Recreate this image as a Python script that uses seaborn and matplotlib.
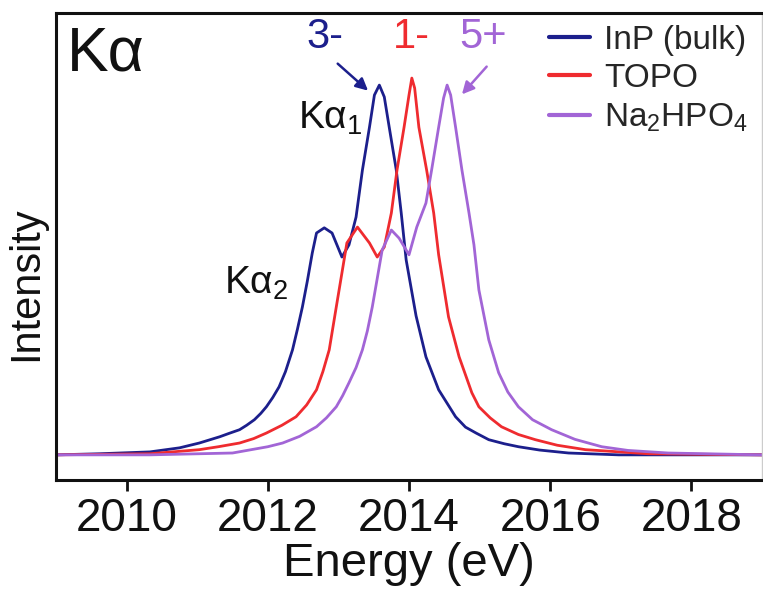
import matplotlib
matplotlib.use("Agg")
import matplotlib.pyplot as plt
import seaborn as sns
import pandas as pd
from matplotlib.lines import Line2D

# ---- data (energy in eV, normalised intensity) ----
inp_energy = [2009.00, 2009.62, 2010.33, 2010.75, 2011.03, 2011.32, 2011.45, 2011.60,
              2011.70, 2011.81, 2011.90, 2011.98, 2012.07, 2012.16, 2012.25, 2012.35,
              2012.42, 2012.49, 2012.56, 2012.63, 2012.69, 2012.80, 2012.91, 2013.05,
              2013.15, 2013.25, 2013.34, 2013.44, 2013.51, 2013.58, 2013.65, 2013.72,
              2013.82, 2013.89, 2013.96, 2014.10, 2014.24, 2014.42, 2014.66, 2014.80,
              2014.95, 2015.13, 2015.35, 2015.55, 2015.85, 2016.26, 2016.97, 2019.00]
inp_int = [0.000, 0.003, 0.008, 0.019, 0.032, 0.049, 0.058, 0.068,
           0.080, 0.095, 0.112, 0.130, 0.155, 0.184, 0.225, 0.284,
           0.340, 0.400, 0.470, 0.546, 0.600, 0.614, 0.600, 0.535,
           0.568, 0.643, 0.770, 0.886, 0.973, 1.000, 0.968, 0.886,
           0.770, 0.654, 0.527, 0.376, 0.265, 0.176, 0.103, 0.075,
           0.059, 0.041, 0.030, 0.022, 0.013, 0.005, 0.000, 0.000]

topo_energy = [2009.00, 2010.33, 2011.03, 2011.30, 2011.60, 2011.80, 2011.98, 2012.20,
               2012.40, 2012.55, 2012.69, 2012.78, 2012.87, 2012.97, 2013.05, 2013.12,
               2013.27, 2013.44, 2013.55, 2013.65, 2013.75, 2013.83, 2013.93, 2014.00,
               2014.04, 2014.08, 2014.14, 2014.25, 2014.35, 2014.42, 2014.56, 2014.71,
               2014.89, 2014.99, 2015.15, 2015.31, 2015.55, 2015.79, 2016.10, 2016.50,
               2017.39, 2019.00]
topo_int = [0.000, 0.003, 0.014, 0.022, 0.032, 0.044, 0.059, 0.080,
            0.103, 0.135, 0.176, 0.225, 0.284, 0.400, 0.492, 0.573,
            0.616, 0.573, 0.535, 0.562, 0.654, 0.770, 0.886, 0.973,
            1.019, 0.992, 0.886, 0.770, 0.654, 0.541, 0.373, 0.265,
            0.168, 0.130, 0.100, 0.076, 0.055, 0.041, 0.026, 0.014,
            0.003, 0.000]

na_energy = [2009.00, 2010.33, 2011.50, 2012.00, 2012.21, 2012.45, 2012.69, 2012.83,
             2012.97, 2013.06, 2013.15, 2013.25, 2013.34, 2013.41, 2013.48, 2013.62,
             2013.75, 2013.86, 2014.00, 2014.11, 2014.24, 2014.32, 2014.42, 2014.49,
             2014.54, 2014.59, 2014.66, 2014.75, 2014.85, 2014.92, 2014.99, 2015.13,
             2015.27, 2015.40, 2015.55, 2015.75, 2016.02, 2016.35, 2016.73, 2017.10,
             2017.67, 2019.00]
na_int = [0.000, 0.000, 0.005, 0.022, 0.032, 0.050, 0.076, 0.100,
          0.130, 0.160, 0.195, 0.236, 0.284, 0.335, 0.400, 0.554,
          0.608, 0.586, 0.541, 0.616, 0.681, 0.770, 0.886, 0.965,
          1.000, 0.973, 0.886, 0.770, 0.654, 0.568, 0.446, 0.311,
          0.222, 0.170, 0.130, 0.095, 0.068, 0.042, 0.022, 0.012,
          0.005, 0.000]

series_names = ["InP (bulk)", "TOPO", "Na$_2$HPO$_4$"]
series_colors = ["#1c1f8c", "#ef2b2f", "#a265d6"]
x_ticks = [2010, 2012, 2014, 2016, 2018]

df = pd.concat([
    pd.DataFrame({"Energy": inp_energy, "Intensity": inp_int, "sample": series_names[0]}),
    pd.DataFrame({"Energy": topo_energy, "Intensity": topo_int, "sample": series_names[1]}),
    pd.DataFrame({"Energy": na_energy, "Intensity": na_int, "sample": series_names[2]}),
], ignore_index=True)

sns.set_style("white")
plt.rcParams["font.family"] = ["Liberation Sans", "DejaVu Sans"]
plt.rcParams["mathtext.fontset"] = "custom"
plt.rcParams["mathtext.rm"] = "Liberation Sans"
plt.rcParams["mathtext.default"] = "regular"

fig = plt.figure(figsize=(7.63, 5.92), dpi=100)
ax = fig.add_axes([56 / 763, 112 / 592, 706 / 763, 467 / 592])

palette = dict(zip(series_names, series_colors))
sns.lineplot(data=df, x="Energy", y="Intensity", hue="sample", palette=palette,
             estimator=None, sort=True, linewidth=2.0, ax=ax, legend=False)

ax.set_xlim(2009, 2019)
ax.set_ylim(-0.068, 1.195)
ax.set_xticks(x_ticks)
ax.set_xticklabels([str(t) for t in x_ticks])
ax.set_yticks([])
ax.tick_params(axis="x", direction="out", length=8, width=2, pad=4,
               labelsize=33, colors="#111111", bottom=True)
ax.set_xlabel("Energy (eV)", fontsize=34, labelpad=1, color="#111111")
ax.set_ylabel("Intensity", fontsize=30, color="#111111")
ax.yaxis.set_label_coords(-0.014, 0.42)

for side in ["left", "bottom", "top"]:
    ax.spines[side].set_color("#111111")
    ax.spines[side].set_linewidth(2.2)
ax.spines["right"].set_color("#cccccc")
ax.spines["right"].set_linewidth(1.0)

# legend
handles = [Line2D([], [], color=c, linewidth=3) for c in series_colors]
ax.legend(handles, series_names, loc="upper left", bbox_to_anchor=(0.698, 0.975),
          frameon=False, fontsize=24, handlelength=1.25, handletextpad=0.4,
          labelspacing=0.22, borderpad=0, borderaxespad=0)

# annotations
ax.text(0.016, 0.975, "Kα", transform=ax.transAxes, fontsize=45, va="top", ha="left",
        color="#111111")
ax.text(2012.81, 1.13, "3-", color=series_colors[0], fontsize=30, ha="center", va="center")
ax.text(2014.03, 1.13, "1-", color=series_colors[1], fontsize=30, ha="center", va="center")
ax.text(2015.05, 1.13, "5+", color=series_colors[2], fontsize=30, ha="center", va="center")
ax.annotate("", xy=(2013.42, 0.985), xytext=(2012.99, 1.058),
            arrowprops=dict(arrowstyle="-|>", color=series_colors[0], lw=1.8,
                            mutation_scale=18, shrinkA=0, shrinkB=0))
ax.annotate("", xy=(2014.75, 0.975), xytext=(2015.10, 1.050),
            arrowprops=dict(arrowstyle="-|>", color=series_colors[2], lw=1.8,
                            mutation_scale=18, shrinkA=0, shrinkB=0))
ax.text(2012.88, 0.91, "Kα$_1$", fontsize=28, ha="center", va="center", color="#111111")
ax.text(2011.83, 0.465, "Kα$_2$", fontsize=28, ha="center", va="center", color="#111111")

fig.savefig("out.png", dpi=100, facecolor="white")
